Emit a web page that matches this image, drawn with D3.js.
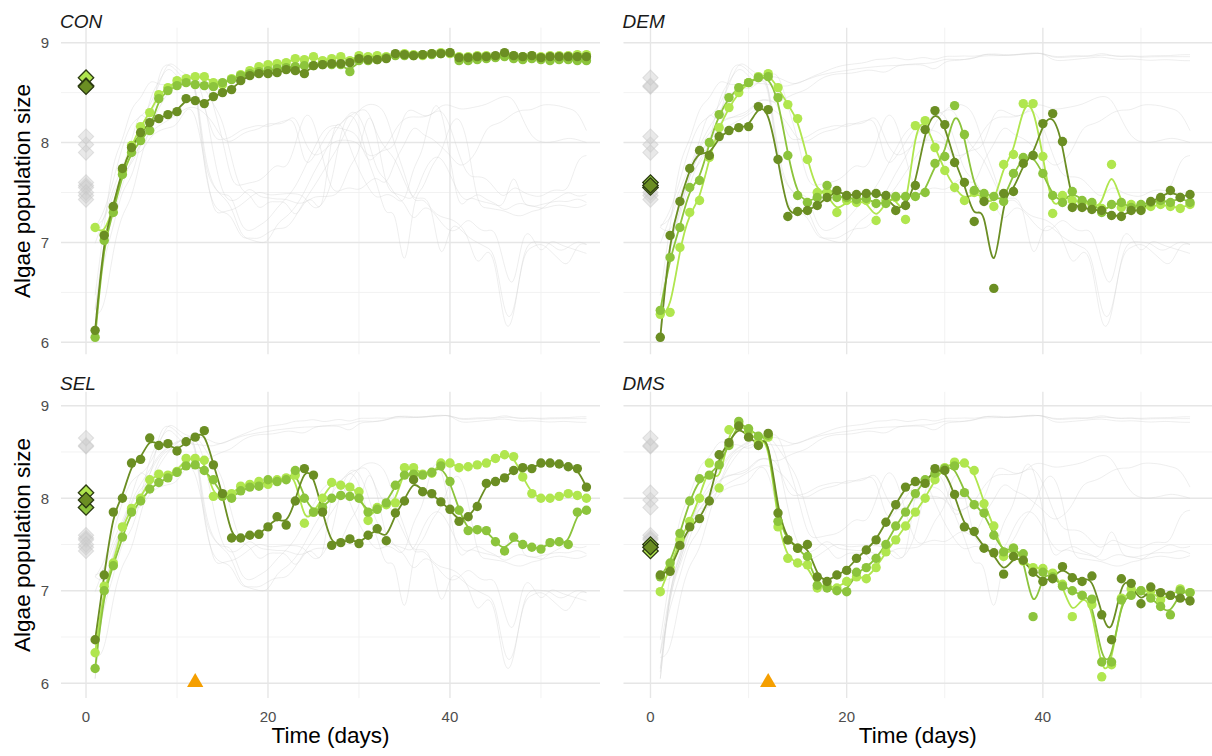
<!DOCTYPE html>
<html>
<head>
<meta charset="utf-8">
<script src="https://cdn.jsdelivr.net/npm/d3@7"></script>
<style>
  body { margin: 0; background: #fff; }
  text { font-family: "Liberation Sans", Arial, sans-serif; }
</style>
</head>
<body>
<div id="vis"></div>
<script>
// ---- data ----
const days = [1,2,3,4,5,6,7,8,9,10,11,12,13,14,15,16,17,18,19,20,21,22,23,24,25,26,27,28,29,30,
  31,32,33,34,35,36,37,38,39,40,41,42,43,44,45,46,47,48,49,50,51,52,53,54,55];

const treatments = ["CON", "DEM", "SEL", "DMS"];
const replicates = ["dark", "medium", "light"];

const conDark = [6.12,7.07,7.36,7.74,7.95,8.10,8.20,8.24,8.28,8.31, 8.44,8.42,8.39,8.46,8.50,8.53,8.62,8.67,8.69,8.69,
  8.70,8.73,8.72,8.69,8.77,8.78,8.79,8.79,8.80,8.84, 8.83,8.83,8.84,8.89,8.88,8.87,8.88,8.89,8.89,8.90,
  8.85,8.85,8.86,8.86,8.87,8.90,8.87,8.86,8.87,8.85, 8.86,8.86,8.86,8.86,8.86];
const conMed = [6.05,7.02,7.30,7.68,7.90,8.02,8.12,8.44,8.52,8.57, 8.60,8.58,8.57,8.56,8.60,8.63,8.67,8.69,8.71,8.72,
  8.74,8.75,8.76,8.77,8.77,8.78,8.78,8.78,8.71,8.82, 8.82,8.83,8.85,8.87,8.87,8.87,8.88,8.88,8.89,8.90,
  8.82,8.82,8.83,8.84,8.85,8.86,8.84,8.83,8.84,8.83, 8.82,8.83,8.83,8.82,8.82];
const conLight = [7.15,7.08,7.35,7.72,7.97,8.16,8.30,8.48,8.55,8.62, 8.64,8.66,8.66,8.60,8.58,8.64,8.68,8.72,8.76,8.78,
  8.79,8.80,8.84,8.83,8.86,8.82,8.84,8.86,8.82,8.87, 8.86,8.87,8.86,8.88,8.89,8.88,8.87,8.89,8.90,8.89,
  8.86,8.86,8.87,8.87,8.86,8.88,8.87,8.86,8.87,8.86, 8.87,8.87,8.87,8.88,8.88];

const demDark = [6.05,7.07,7.41,7.74,7.92,7.87,8.06,8.12,8.15,8.16, 8.36,8.33,7.83,7.26,7.31,7.32,7.37,7.45,7.52,7.47,
  7.48,7.49,7.49,7.47,7.32,7.37,7.57,8.13,8.32,8.18, 7.80,7.60,7.21,7.41,6.54,7.49,7.51,7.79,7.87,8.19,
  8.29,8.01,7.35,7.35,7.33,7.32,7.27,7.26,7.32,7.32, 7.41,7.45,7.52,7.45,7.48];
const demMed = [6.32,6.85,7.15,7.55,7.62,8.00,8.28,8.45,8.55,8.60, 8.65,8.66,8.45,7.87,7.47,7.40,7.45,7.57,7.45,7.45,
  7.43,7.44,7.39,7.39,7.46,7.46,7.46,7.50,7.79,7.86, 8.37,8.08,7.52,7.49,7.46,7.41,7.69,7.85,7.87,7.69,
  7.47,7.40,7.51,7.42,7.40,7.30,7.38,7.40,7.35,7.38, 7.40,7.42,7.40,7.45,7.40];
const demLight = [6.28,6.30,6.95,7.30,7.42,7.85,8.15,8.35,8.50,8.60, 8.66,8.69,8.55,8.38,8.24,7.83,7.50,7.50,7.30,7.42,
  7.40,7.42,7.22,7.42,7.45,7.23,8.17,8.22,7.95,7.72, 7.55,7.42,7.50,7.45,7.36,7.78,7.88,8.39,8.39,7.86,
  7.29,7.47,7.42,7.40,7.38,7.34,7.78,7.35,7.38,7.33, 7.36,7.38,7.36,7.34,7.38];

const selDark = [6.47,7.17,7.85,8.00,8.38,8.42,8.65,8.57,8.59,8.51, 8.61,8.66,8.73,8.36,8.05,7.57,7.57,7.60,7.61,7.69,
  7.80,7.71,7.97,8.32,8.25,7.85,7.49,7.52,7.56,7.51, 7.60,7.67,7.54,7.84,7.97,8.20,8.07,8.05,7.96,7.88,
  7.75,7.80,7.91,8.16,8.18,8.22,8.30,8.33,8.32,8.38, 8.38,8.37,8.34,8.32,8.12];
const selMed = [6.16,7.00,7.27,7.58,7.85,7.97,8.10,8.17,8.22,8.28, 8.35,8.36,8.30,8.20,8.02,8.00,8.08,8.12,8.13,8.20,
  8.18,8.20,8.30,8.00,7.85,7.90,8.00,8.03,8.02,8.00, 7.85,7.88,7.95,8.14,8.25,8.26,8.25,8.28,8.35,8.18,
  7.87,7.65,7.66,7.65,7.53,7.43,7.58,7.50,7.47,7.45, 7.52,7.53,7.50,7.85,7.87];
const selLight = [6.33,7.05,7.30,7.69,7.89,8.00,8.20,8.26,8.25,8.29, 8.43,8.43,8.41,8.02,8.03,8.05,8.13,8.15,8.18,8.15,
  8.20,8.22,8.25,7.73,7.85,8.00,8.17,8.14,8.12,8.07, 7.76,7.90,7.93,7.95,8.33,8.33,8.26,8.27,8.38,8.38,
  8.33,8.34,8.36,8.38,8.43,8.47,8.45,8.23,8.05,8.00, 8.00,8.02,8.05,8.03,8.00];

const dmsDark = [7.17,7.21,7.49,7.69,7.78,7.97,8.47,8.60,8.78,8.66, 8.57,8.70,7.84,7.55,7.46,7.50,7.15,7.10,7.17,7.22,
  7.35,7.44,7.55,7.74,7.93,8.12,8.18,8.16,8.32,8.30, 8.04,7.69,7.64,7.46,7.41,7.18,7.37,7.33,7.20,7.10,
  7.13,7.26,7.14,7.10,7.16,6.74,6.47,7.13,7.08,6.86, 7.04,6.98,6.95,6.92,6.89];
const dmsMed = [7.15,7.30,7.62,7.97,8.21,8.25,8.36,8.57,8.83,8.75, 8.67,8.68,7.75,7.55,7.46,7.37,7.06,7.03,7.00,6.99,
  7.20,7.25,7.35,7.50,7.70,7.85,8.05,8.20,8.27,8.32, 8.35,8.06,7.93,7.84,7.60,7.42,7.46,7.40,6.72,7.20,
  7.15,7.05,7.00,6.95,6.91,6.23,6.23,6.90,6.95,7.00, 6.92,6.83,6.74,7.00,6.98];
const dmsLight = [6.99,7.25,7.55,7.75,8.00,8.38,8.11,8.74,8.80,8.72, 8.60,8.66,7.69,7.35,7.30,7.28,7.03,7.05,7.03,7.10,
  7.15,7.13,7.25,7.42,7.55,7.70,7.85,8.00,8.20,8.33, 8.39,8.38,8.30,7.94,7.70,7.37,7.46,7.32,7.25,7.24,
  7.19,7.07,6.72,6.95,6.85,6.07,6.20,6.92,7.02,7.00, 7.00,6.90,6.95,7.02,6.98];

// starting value diamonds at day 0 (dark, medium, light)
const conStart = [8.56, 8.57, 8.65];
const demStart = [7.57, 7.60, 7.55];
const selStart = [7.98, 7.90, 8.06];
const dmsStart = [7.47, 7.50, 7.43];

// treatment marker (orange triangle)
const markerDay = 12;
const markerValue = 6;
const markerFacets = ["SEL", "DMS"];

const yTicks = [6, 7, 8, 9];
const yMinor = [6.5, 7.5, 8.5];
const xTicks = [0, 20, 40];
const xMinor = [10, 30, 50];

const seriesByFacet = {
  CON: [conDark, conMed, conLight],
  DEM: [demDark, demMed, demLight],
  SEL: [selDark, selMed, selLight],
  DMS: [dmsDark, dmsMed, dmsLight]
};
const startByFacet = { CON: conStart, DEM: demStart, SEL: selStart, DMS: dmsStart };

// ---- layout ----
const width = 1212, height = 756;
const colors = { dark: "#6b8e23", medium: "#8cc43c", light: "#b0e64e" };
// the left column is a bit narrower than the right one
const cols = [{ domain: [-2.75, 56.49], range: [61, 600] },
              { domain: [-2.75, 57.24], range: [623.5, 1212] }];
const rows = [{ domain: [5.88, 9.15], range: [354.3, 27.7] },
              { domain: [5.84, 9.15], range: [698.1, 391.8] }];

const svg = d3.select("#vis").append("svg")
  .attr("width", width).attr("height", height);

const allSeries = [];
treatments.forEach(t => seriesByFacet[t].forEach(s => allSeries.push(s)));
const allStarts = [];
treatments.forEach(t => startByFacet[t].forEach(v => allStarts.push(v)));

const diamond = d3.symbol().type(d3.symbolSquare).size(118);

treatments.forEach((name, i) => {
  const col = i % 2, row = Math.floor(i / 2);
  const x = d3.scaleLinear().domain(cols[col].domain).range(cols[col].range);
  const y = d3.scaleLinear().domain(rows[row].domain).range(rows[row].range);
  const [x0, x1] = cols[col].range;
  const [yb, yt] = rows[row].range;

  const g = svg.append("g");

  // grid
  g.selectAll(".hmin").data(yMinor).enter().append("line")
    .attr("x1", x0).attr("x2", x1).attr("y1", d => y(d)).attr("y2", d => y(d))
    .attr("stroke", "#f1f1f1").attr("stroke-width", 0.9);
  g.selectAll(".vmin").data(xMinor).enter().append("line")
    .attr("y1", yt).attr("y2", yb).attr("x1", d => x(d)).attr("x2", d => x(d))
    .attr("stroke", "#f1f1f1").attr("stroke-width", 0.9);
  g.selectAll(".hmaj").data(yTicks).enter().append("line")
    .attr("x1", x0).attr("x2", x1).attr("y1", d => y(d)).attr("y2", d => y(d))
    .attr("stroke", "#e6e6e6").attr("stroke-width", 1.4);
  g.selectAll(".vmaj").data(xTicks).enter().append("line")
    .attr("y1", yt).attr("y2", yb).attr("x1", d => x(d)).attr("x2", d => x(d))
    .attr("stroke", "#e6e6e6").attr("stroke-width", 1.4);

  const line = d3.line()
    .x((d, k) => x(days[k]))
    .y(d => y(d))
    .curve(d3.curveBasis);

  // every replicate in grey behind
  g.selectAll(".bg").data(allSeries).enter().append("path")
    .attr("d", line).attr("fill", "none")
    .attr("stroke", "#d2d2d2").attr("stroke-opacity", 0.38).attr("stroke-width", 1);

  g.selectAll(".bgd").data(allStarts).enter().append("path")
    .attr("d", diamond)
    .attr("transform", d => `translate(${x(0)},${y(d)}) rotate(45)`)
    .attr("fill", "#cfcfcf").attr("fill-opacity", 0.45)
    .attr("stroke", "#c4c4c4").attr("stroke-opacity", 0.45);

  // own replicates, light first so dark is on top
  const own = seriesByFacet[name];
  const order = [2, 1, 0];
  order.forEach(r => {
    g.append("path").datum(own[r])
      .attr("d", line).attr("fill", "none")
      .attr("stroke", colors[replicates[r]]).attr("stroke-width", 1.8);
  });
  order.forEach(r => {
    g.selectAll(null).data(own[r]).enter().append("circle")
      .attr("cx", (d, k) => x(days[k])).attr("cy", d => y(d))
      .attr("r", 4.7).attr("fill", colors[replicates[r]]);
  });
  order.forEach(r => {
    g.append("path")
      .attr("d", diamond)
      .attr("transform", `translate(${x(0)},${y(startByFacet[name][r])}) rotate(45)`)
      .attr("fill", colors[replicates[r]])
      .attr("stroke", "#2c3b12").attr("stroke-width", 1.3);
  });

  if (markerFacets.includes(name)) {
    g.append("path")
      .attr("d", d3.symbol().type(d3.symbolTriangle).size(115))
      .attr("transform", `translate(${x(markerDay)},${y(markerValue) - 1})`)
      .attr("fill", "#f59f00");
  }

  // facet label
  svg.append("text")
    .attr("x", x0 - 1).attr("y", row === 0 ? 28 : 390)
    .attr("font-size", 19).attr("font-style", "italic").attr("fill", "#1a1a1a")
    .text(name);

  if (col === 0) {
    svg.selectAll(null).data(yTicks).enter().append("text")
      .attr("x", 49).attr("y", d => y(d) + 5.5)
      .attr("text-anchor", "end").attr("font-size", 15).attr("fill", "#4d4d4d")
      .text(d => d);
    svg.append("text")
      .attr("transform", `translate(30,${(yt + yb) / 2}) rotate(-90)`)
      .attr("text-anchor", "middle").attr("font-size", 22.5).attr("fill", "#000")
      .text("Algae population size");
  }
  if (row === 1) {
    svg.selectAll(null).data(xTicks).enter().append("text")
      .attr("x", d => x(d)).attr("y", 722)
      .attr("text-anchor", "middle").attr("font-size", 15).attr("fill", "#4d4d4d")
      .text(d => d);
    svg.append("text")
      .attr("x", (x0 + x1) / 2).attr("y", 743)
      .attr("text-anchor", "middle").attr("font-size", 22.5).attr("fill", "#000")
      .text("Time (days)");
  }
});
</script>
</body>
</html>
